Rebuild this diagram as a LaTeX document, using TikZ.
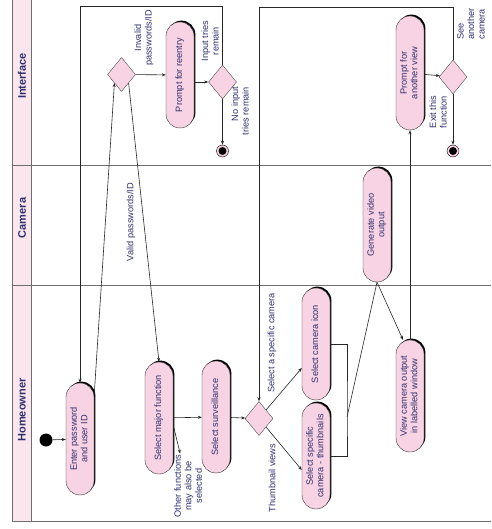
\documentclass[tikz,border=0pt]{standalone}
\usepackage{fontspec}
\setmainfont{Liberation Sans}
\usepackage{graphicx}
\usetikzlibrary{arrows.meta,shapes.geometric,shadows,calc}
\definecolor{actpink}{HTML}{F8D3E3}
\definecolor{lanepink}{HTML}{FCE6EE}
\definecolor{ink}{HTML}{2E3070}
\definecolor{rule}{HTML}{6E6E6E}

\newcommand{\vtext}[1]{\rotatebox{90}{\begin{tabular}{@{}c@{}}#1\end{tabular}}}

\tikzset{
  activity/.style={draw=black!80, fill=actpink, rounded corners=14pt,
    minimum width=28pt, minimum height=112pt, inner sep=0pt, text=ink,
    font=\fontsize{9.2}{10.5}\selectfont,
    general shadow={fill=black, shadow xshift=1.4pt, shadow yshift=1.4pt}},
  choice/.style={diamond, draw=black!70, fill=actpink, minimum width=28pt,
    minimum height=34pt, inner sep=0pt},
  guard/.style={rotate=90, text=ink, inner sep=1pt, align=center,
    font=\fontsize{9.2}{10.5}\selectfont},
  lanename/.style={rotate=90, text=ink, font=\bfseries\fontsize{11}{13}\selectfont},
  startdot/.style={circle, fill=black, minimum size=13pt, inner sep=0pt},
  enddot/.style={circle, draw=black, fill=actpink, minimum size=12pt, inner sep=0pt,
    path picture={\fill[black] (path picture bounding box.center) circle (4pt);}},
  flow/.style={draw=black!85, line width=0.6pt, -{Stealth[length=4pt,width=3pt]}},
  wire/.style={draw=black!85, line width=0.6pt},
}

\begin{document}
\begin{tikzpicture}[x=1pt,y=-1pt]
\useasboundingbox (0,0) rectangle (491,529);
% swimlanes
\fill[lanepink] (12,0) rectangle (31,521);
\draw[rule, line width=0.8pt] (12,0) -- (12,521) -- (491,521);
\draw[rule, line width=0.8pt] (31,0) -- (31,521);
\draw[rule, line width=0.8pt] (12,165) -- (491,165);
\draw[rule, line width=0.8pt] (12,285) -- (491,285);
\node[lanename] (interface) at (22,76) {Interface};
\node[lanename] (camera) at (22,218) {Camera};
\node[lanename] (homeowner) at (22,410) {Homeowner};

% activities
\node[startdot] (start) at (46,440) {};
\node[activity] (enter) at (80,439) {\vtext{Enter password\\and user ID}};
\node[activity] (selfunc) at (159,418) {\vtext{Select major function}};
\node[activity] (selsurv) at (216,417) {\vtext{Select surveillance}};
\node[activity] (camicon) at (316,344) {\vtext{Select camera icon}};
\node[activity, minimum height=106pt] (thumbs) at (316,456) {\vtext{Select specific\\camera - thumbnails}};
\node[activity] (viewcam) at (410,396) {\vtext{View camera output\\in labelled window}};
\node[activity, minimum height=114pt] (genvideo) at (377,225) {\vtext{Generate video\\output}};
\node[activity, minimum height=106pt] (promptre) at (180,75) {\vtext{Prompt for reentry}};
\node[activity, minimum height=114pt] (promptview) at (410,73) {\vtext{Prompt for\\another view}};

% decisions and ends
\node[choice] (checkid) at (121.5,74.5) {};
\node[choice] (tries) at (222.5,82) {};
\node[choice] (viewsel) at (259,418.5) {};
\node[choice] (again) at (453,77) {};
\node[enddot] (end1) at (222.5,151) {};
\node[enddot] (end2) at (453,151) {};

% guards
\node[guard] (invalid) at (144,38) {Invalid\\passwords/ID};
\node[guard] (valid) at (131,222) {Valid passwords/ID};
\node[guard] (triesleft) at (210,41) {Input tries\\remain};
\node[guard, align=right] (notries) at (240,111) {No input\\tries remain};
\node[guard] (other) at (188,486) {Other functions\\may also be\\selected};
\node[guard] (specific) at (272,343) {Select a specific camera};
\node[guard] (thumbview) at (272,478) {Thumbnail views};
\node[guard, align=left] (another) at (471,24) {See\\another\\camera};
\node[guard] (exit) at (438,112) {Exit this\\function};

% flows
\draw[flow] (start) -- (enter);
\draw[flow] ([yshift=-12pt]enter.north east) -- (checkid.south west);
\draw[flow] (checkid.south east) -- (selfunc.north);
\draw[flow] (checkid) -- (promptre);
\draw[flow] (promptre.east |- tries) -- (tries);
\draw[flow] (tries) -- (end1);
\draw[flow] (tries.north) |- (enter.north |- 0,6) -- (enter.north);
\draw[flow] (selfunc) -- (selsurv);
\draw[flow] ([yshift=-7pt]selfunc.east) -- (other);
\draw[flow] (selsurv) -- (viewsel);
\draw[flow] (viewsel.north east) -- ([yshift=-24pt]camicon.west);
\draw[flow] (viewsel.south east) -- ([yshift=-14pt]thumbs.west);
\coordinate (join) at (347,417);
\draw[wire] (camicon.east) -| (join) |- (thumbs.east);
\draw[wire] (join) -- (genvideo.south);
\draw[flow] (genvideo.south) -- ([xshift=-7pt]viewcam.north);
\draw[flow] (viewcam.north) -- (promptview.south);
\draw[flow] (promptview) -- (again);
\draw[flow] (again) -- (end2);
\draw[flow] (again.north) |- (viewsel.north |- 0,7) -- (viewsel.north);
\end{tikzpicture}
\end{document}
